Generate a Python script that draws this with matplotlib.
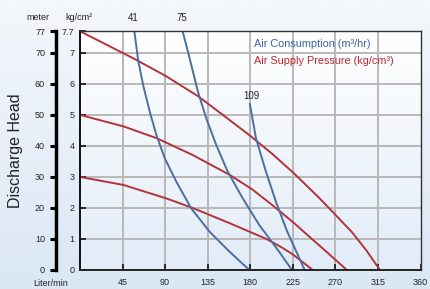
import numpy as np
import matplotlib
matplotlib.use("Agg")
from matplotlib import pyplot as plt
from matplotlib.colors import LinearSegmentedColormap

plt.rcParams['font.family'] = ['Liberation Sans Narrow', 'Liberation Sans', 'DejaVu Sans']

# air supply pressure curves (x: Liter/min, y: kg/cm2)
red_hi_x = [0, 58, 91, 125, 151, 179, 203, 226, 252, 270, 288, 303, 317]
red_hi_y = [7.7, 6.8, 6.25, 5.6, 5.0, 4.35, 3.75, 3.12, 2.35, 1.78, 1.2, 0.62, 0]
red_mid_x = [0, 46, 81, 119, 158, 182, 205, 226, 244, 263, 282]
red_mid_y = [5.0, 4.63, 4.25, 3.71, 3.07, 2.6, 2.05, 1.52, 1.03, 0.52, 0]
red_lo_x = [0, 46, 91, 119, 158, 197, 212, 225, 246]
red_lo_y = [3.0, 2.74, 2.31, 2.0, 1.51, 1.0, 0.75, 0.5, 0]

# air consumption curves
blue41_x = [57.5, 61.4, 66.7, 73.7, 80.7, 89.5, 101.8, 117.5, 136.8, 158, 179]
blue41_y = [7.7, 6.78, 5.97, 5.11, 4.36, 3.61, 2.85, 1.99, 1.24, 0.59, 0]
blue75_x = [108.5, 115.8, 124.6, 133.4, 143.9, 156, 172, 189.5, 210.5, 224]
blue75_y = [7.7, 6.84, 5.76, 4.9, 4.04, 3.18, 2.31, 1.45, 0.59, 0]
blue109_x = [179.6, 186, 196.5, 207, 219, 237.5]
blue109_y = [5.35, 4.25, 3.18, 2.21, 1.24, 0]

x_ticks = [45, 90, 135, 180, 225, 270, 315, 360]
kg_ticks = [0, 1, 2, 3, 4, 5, 6, 7, 7.7]
kg_labels = ['0', '1', '2', '3', '4', '5', '6', '7', '7.7']
m_labels = ['0', '10', '20', '30', '40', '50', '60', '70', '77']

red = '#b2343a'
blue = '#4d6f9e'
txt = '#222222'

fig = plt.figure(figsize=(4.3, 2.89), dpi=100)

# page background gradient
bg = fig.add_axes([0, 0, 1, 1], zorder=-10)
bg_cmap = LinearSegmentedColormap.from_list('bg', ['#f4f7fb', '#dbe7f5'])
bg.imshow(np.linspace(0, 1, 100).reshape(-1, 1), aspect='auto', cmap=bg_cmap,
          extent=[0, 1, 0, 1], origin='upper')
bg.axis('off')

ax = fig.add_axes([0.186, 0.066, 0.792, 0.826])
plot_cmap = LinearSegmentedColormap.from_list('pl', ['#ffffff', '#e2ecf8'])
ax.imshow(np.linspace(0, 1, 100).reshape(-1, 1), aspect='auto', cmap=plot_cmap,
          extent=[0, 360, 0, 7.7], origin='upper', zorder=0)

ax.set_xlim(0, 360)
ax.set_ylim(0, 7.7)

for xv in x_ticks[:-1]:
    ax.axvline(xv, color='#b8b8b8', lw=1.4, zorder=1)
for yv in kg_ticks[1:-1]:
    ax.axhline(yv, color='#b8b8b8', lw=1.4, zorder=1)

ax.plot(red_hi_x, red_hi_y, color=red, lw=1.4, zorder=3, solid_joinstyle='round')
ax.plot(red_mid_x, red_mid_y, color=red, lw=1.4, zorder=3, solid_joinstyle='round')
ax.plot(red_lo_x, red_lo_y, color=red, lw=1.4, zorder=3, solid_joinstyle='round')
ax.plot(blue41_x, blue41_y, color=blue, lw=1.4, zorder=3, solid_joinstyle='round')
ax.plot(blue75_x, blue75_y, color=blue, lw=1.4, zorder=3, solid_joinstyle='round')
ax.plot(blue109_x, blue109_y, color=blue, lw=1.4, zorder=3, solid_joinstyle='round')

ax.text(blue41_x[0] - 1, 7.95, '41', fontsize=7, color=txt, ha='center', va='bottom')
ax.text(blue75_x[0] - 1, 7.95, '75', fontsize=7, color=txt, ha='center', va='bottom')
ax.text(blue109_x[0] + 2, 5.45, '109', fontsize=7, color=txt, ha='center', va='bottom')

ax.text(184, 7.29, 'Air Consumption (m³/hr)', fontsize=7.8, color='#3b62a8', va='center')
ax.text(184, 6.75, 'Air Supply Pressure (kg/cm³)', fontsize=7.8, color='#c0282e', va='center')

ax.set_xticks(x_ticks)
ax.set_xticklabels([str(v) for v in x_ticks], fontsize=6.5, color=txt)
ax.set_yticks(kg_ticks)
ax.set_yticklabels(kg_labels, fontsize=6.5, color=txt)
ax.tick_params(axis='both', direction='in', length=4, width=1.2, color='#111111')
ax.tick_params(axis='x', pad=6)
ax.tick_params(axis='y', pad=4)

for side in ['top', 'right']:
    ax.spines[side].set_color('#333333')
    ax.spines[side].set_linewidth(1.0)
ax.spines['bottom'].set_color('#222222')
ax.spines['bottom'].set_linewidth(1.4)
ax.spines['left'].set_color('#111111')
ax.spines['left'].set_linewidth(1.4)
for sp in ax.spines.values():
    sp.set_zorder(5)

# meter axis on the far left
sec = ax.secondary_yaxis(-0.07, functions=(lambda k: k * 10, lambda m: m / 10))
sec.set_yticks([float(v) for v in m_labels])
sec.set_yticklabels(m_labels, fontsize=6.5, color=txt)
sec.spines['left'].set_linewidth(2.5)
sec.spines['left'].set_color('#000000')
sec.tick_params(axis='y', direction='out', length=4, width=2.2, color='#000000', pad=4)

fig.text(0.088, 0.94, 'meter', fontsize=6.5, color=txt, ha='center', va='center')
fig.text(0.184, 0.94, 'kg/cm²', fontsize=6.5, color=txt, ha='center', va='center')
fig.text(0.117, 0.018, 'Liter/min', fontsize=6.5, color=txt, ha='center', va='center')
fig.text(0.035, 0.48, 'Discharge Head', fontsize=11.5, color=txt, rotation=90,
         ha='center', va='center')

fig.savefig('out.png', dpi=100)
